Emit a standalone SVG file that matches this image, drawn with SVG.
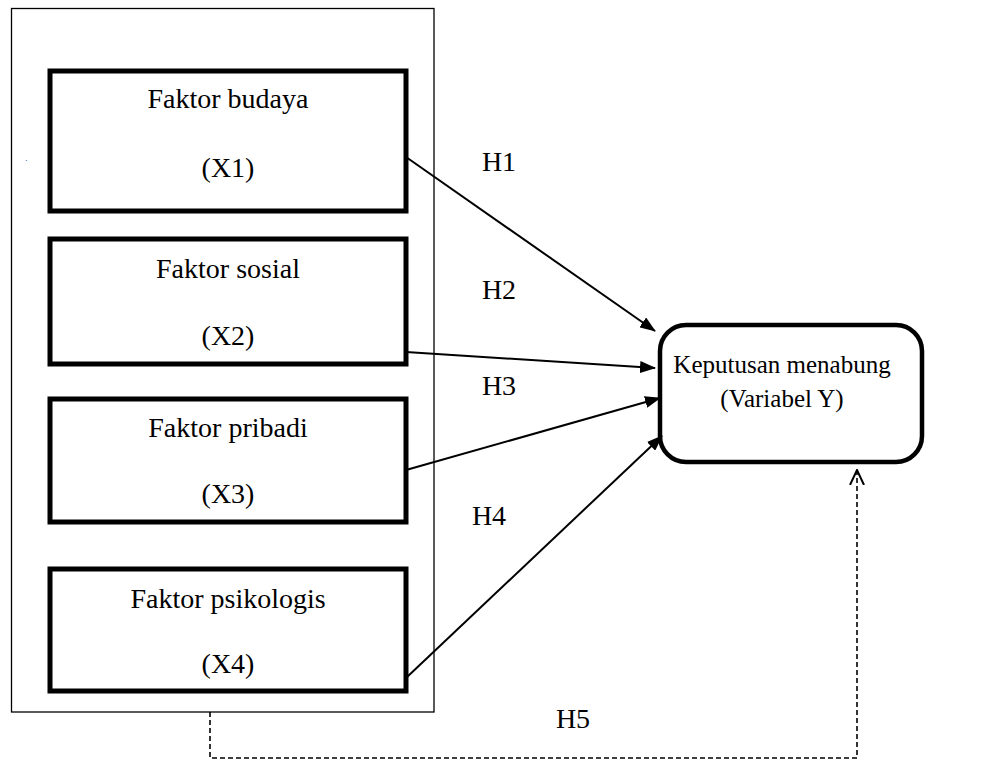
<svg xmlns="http://www.w3.org/2000/svg" width="992" height="761" viewBox="0 0 992 761">
<style>
.lbl{font-family:'Liberation Serif','Times New Roman',serif;font-size:28px;text-anchor:middle;fill:#000}
.box{fill:#fff;stroke:#000;stroke-width:5}
.con{stroke:#000;stroke-width:2;fill:none}
.dash{stroke:#000;stroke-width:1.6;fill:none;stroke-dasharray:5 3}
</style>
<defs>
<marker id="ah" viewBox="0 0 16 12" refX="15" refY="6" markerWidth="16" markerHeight="12" markerUnits="userSpaceOnUse" orient="auto">
<path d="M0,0 L16,6 L0,12 Z" fill="#000"/>
</marker>
<marker id="oh" viewBox="0 0 16 16" refX="15" refY="8" markerWidth="16" markerHeight="16" markerUnits="userSpaceOnUse" orient="auto">
<path d="M0,1 L15,8 L0,15" fill="none" stroke="#000" stroke-width="2"/>
</marker>
</defs>
<rect width="992" height="761" fill="#fff"/>
<g id="frame">
<rect x="11.5" y="8.5" width="422.5" height="703.5" fill="none" stroke="#000" stroke-width="1.3"/>
</g>
<text x="25" y="161" font-family="Liberation Serif, serif" font-size="10" fill="#4472c4">.</text>
<g id="x1" font-family="Liberation Serif, serif">
<rect class="box" x="50" y="71" width="356" height="140"/>
<text class="lbl" x="228" y="108">Faktor budaya</text>
<text class="lbl" x="228" y="177">(X1)</text>
</g>
<g id="x2" font-family="Liberation Serif, serif">
<rect class="box" x="50" y="239" width="356" height="125"/>
<text class="lbl" x="228" y="278">Faktor sosial</text>
<text class="lbl" x="228" y="345">(X2)</text>
</g>
<g id="x3" font-family="Liberation Serif, serif">
<rect class="box" x="50" y="399" width="356" height="123"/>
<text class="lbl" x="228" y="437">Faktor pribadi</text>
<text class="lbl" x="228" y="503">(X3)</text>
</g>
<g id="x4" font-family="Liberation Serif, serif">
<rect class="box" x="50" y="569" width="356" height="122"/>
<text class="lbl" x="228" y="608">Faktor psikologis</text>
<text class="lbl" x="228" y="673">(X4)</text>
</g>
<g id="y" font-family="Liberation Serif, serif">
<rect x="660" y="325" width="262" height="137" rx="26" ry="26" fill="#fff" stroke="#000" stroke-width="4.5"/>
<text class="lbl" x="782" y="373" style="font-size:25px">Keputusan menabung</text>
<text class="lbl" x="782" y="407" style="font-size:25px">(Variabel Y)</text>
</g>
<g id="connectors" font-family="Liberation Serif, serif">
<line class="con" x1="406" y1="157" x2="655" y2="331" marker-end="url(#ah)"/>
<line class="con" x1="406" y1="352" x2="655" y2="368" marker-end="url(#ah)"/>
<line class="con" x1="406" y1="470" x2="660" y2="398" marker-end="url(#ah)"/>
<line class="con" x1="406" y1="678" x2="662" y2="436" marker-end="url(#ah)"/>
<polyline class="dash" points="210,712 210,758 857,758 857,470" marker-end="url(#oh)"/>
<text class="lbl" x="499" y="171">H1</text>
<text class="lbl" x="499" y="299">H2</text>
<text class="lbl" x="499" y="395">H3</text>
<text class="lbl" x="489" y="525">H4</text>
<text class="lbl" x="573" y="728">H5</text>
</g>
</svg>
